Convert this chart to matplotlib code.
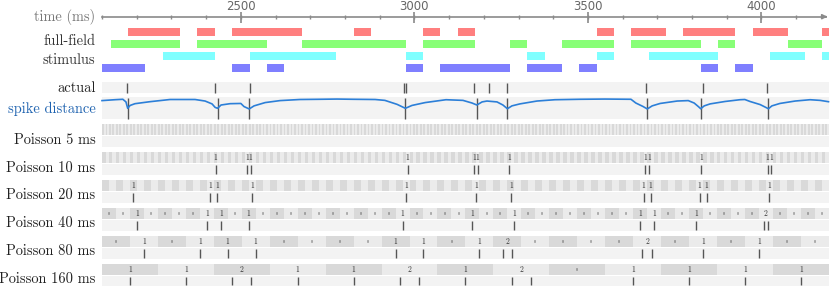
import matplotlib
matplotlib.use('Agg')
import matplotlib.pyplot as plt
import matplotlib.transforms as mtransforms
from matplotlib.patches import Rectangle
import numpy as np

# time window shown (ms)
t_start = 2100
t_end = 4194
major_ticks = [2500, 3000, 3500, 4000]

# full-field stimulus intervals (ms)
stim_red = [(2175, 2325), (2375, 2425), (2475, 2675), (2825, 2875), (3025, 3075),
            (3125, 3175), (3525, 3575), (3625, 3725), (3775, 3925), (3975, 4075), (4175, 4194)]
stim_green = [(2125, 2325), (2375, 2575), (2675, 2975), (3025, 3175), (3275, 3325),
              (3425, 3575), (3625, 3825), (3875, 3925), (4075, 4175)]
stim_cyan = [(2275, 2425), (2525, 2775), (2975, 3025), (3325, 3375), (3525, 3575),
             (3675, 3875), (4025, 4125), (4175, 4194)]
stim_blue = [(2100, 2225), (2475, 2525), (2575, 2625), (2975, 3025), (3075, 3275),
             (3325, 3425), (3475, 3525), (3825, 3875), (3925, 3975)]

# recorded spikes (ms)
actual_spikes = [2172, 2426, 2526, 2970, 2976, 3171, 3214, 3267, 3667, 3832, 4017]

# spike distance trace
sd_spikes = [2174, 2433, 2524, 2974, 3180, 3268, 3671, 3825, 4020]
sd_time = [2100, 2137, 2160, 2169, 2174, 2181, 2195, 2238, 2296, 2368, 2397, 2417, 2426,
           2433, 2443, 2469, 2500, 2509, 2524, 2538, 2570, 2613, 2670, 2728, 2777, 2823,
           2887, 2915, 2950, 2974, 2993, 3031, 3091, 3140, 3166, 3180, 3195, 3209, 3238,
           3255, 3268, 3281, 3304, 3353, 3405, 3477, 3549, 3624, 3638, 3659, 3671, 3685,
           3708, 3757, 3789, 3806, 3818, 3825, 3835, 3852, 3895, 3938, 3952, 3967, 3996,
           4010, 4020, 4030, 4053, 4097, 4140, 4169, 4193]
sd_value = [0.85, 0.89, 0.91, 0.79, 0.50, 0.63, 0.71, 0.80, 0.90, 0.90, 0.83, 0.70, 0.54,
            0.50, 0.65, 0.71, 0.72, 0.58, 0.47, 0.61, 0.76, 0.85, 0.90, 0.91, 0.92, 0.91,
            0.90, 0.86, 0.68, 0.50, 0.63, 0.76, 0.89, 0.86, 0.74, 0.65, 0.79, 0.83, 0.79,
            0.65, 0.48, 0.61, 0.70, 0.83, 0.89, 0.91, 0.92, 0.91, 0.74, 0.58, 0.47, 0.61,
            0.72, 0.83, 0.85, 0.74, 0.58, 0.48, 0.61, 0.70, 0.81, 0.89, 0.90, 0.81, 0.67,
            0.56, 0.48, 0.61, 0.72, 0.83, 0.89, 0.86, 0.80]

# Poisson samples: bins with one spike for the fine resolutions
p10_ones = [32, 41, 42, 87, 106, 107, 116, 155, 156, 171, 190, 191]
p20_ones = [4, 15, 16, 21, 43, 53, 58, 77, 78, 85, 86, 95]
p40_counts = [0, 0, 1, 0, 0, 0, 0, 1, 1, 0, 1, 0, 0, 0, 0, 0, 0, 0, 0, 0, 0, 1, 0, 0, 0, 0,
              1, 0, 0, 1, 0, 0, 0, 0, 0, 0, 0, 0, 1, 1, 0, 0, 1, 0, 0, 0, 0, 2, 0, 0, 0, 0]
p80_counts = [0, 1, 0, 1, 1, 1, 0, 0, 0, 0, 1, 1, 0, 1, 2, 0, 0, 0, 0, 2, 0, 1, 0, 1, 0, 0]
p160_counts = [1, 1, 2, 1, 1, 2, 1, 2, 0, 1, 1, 1, 1]

p5_counts = np.zeros(416, dtype=int)
p10_counts = np.zeros(208, dtype=int)
p10_counts[p10_ones] = 1
p20_counts = np.zeros(104, dtype=int)
p20_counts[p20_ones] = 1

poisson_rows = [('Poisson 5 ms', p5_counts, 'none'),
                ('Poisson 10 ms', p10_counts, 'nonzero'),
                ('Poisson 20 ms', p20_counts, 'nonzero'),
                ('Poisson 40 ms', p40_counts, 'all'),
                ('Poisson 80 ms', p80_counts, 'all'),
                ('Poisson 160 ms', p160_counts, 'all')]

serif = 'cmr10'
fs = 10.4
band_col = '#f3f3f3'
spike_col = '#555555'

fig = plt.figure(figsize=(8.3, 2.86), dpi=100)
ax = fig.add_axes([0, 0, 1, 1])
ax.set_xlim(1806.1, 4197.4)
ax.set_ylim(286, 0)
ax.axis('off')
lab = mtransforms.blended_transform_factory(fig.transFigure, ax.transData)
lab_x = 95.5 / 830

# time axis
ax_y = 16.7
ax.plot([t_start, t_end - 8], [ax_y, ax_y], color='#8a8a8a', lw=1.2)
ax.annotate('', xy=(t_end + 4, ax_y), xytext=(t_end - 20, ax_y),
            arrowprops=dict(arrowstyle='-|>', color='#8a8a8a', lw=1.2, mutation_scale=7))
ax.vlines(np.arange(t_start, 4101, 100), ax_y - 1.8, ax_y + 2.2, color='#8a8a8a', lw=1)
ax.vlines(major_ticks, ax_y - 4.4, ax_y + 6, color='#8a8a8a', lw=1.2)
for t in major_ticks:
    ax.text(t, 6.5, str(t), ha='center', va='center', color='#666666', fontsize=8.5)
ax.text(lab_x, 17, 'time (ms)', transform=lab, ha='right', va='center',
        color='#777777', fontsize=fs, family=serif)

# stimulus rows
stim_rows = [(stim_red, '#ff7f7f', 28), (stim_green, '#88ff77', 40),
             (stim_cyan, '#7fffff', 52), (stim_blue, '#7f7fff', 64)]
for intervals, col, y0 in stim_rows:
    ax.broken_barh([(a, b - a) for a, b in intervals], (y0, 8.3), facecolors=col)
ax.text(lab_x, 41, 'full-field', transform=lab, ha='right', va='center',
        color='#333333', fontsize=fs, family=serif)
ax.text(lab_x, 60.5, 'stimulus', transform=lab, ha='right', va='center',
        color='#333333', fontsize=fs, family=serif)

# actual spikes
ax.add_patch(Rectangle((t_start, 82.3), t_end - t_start, 11, color=band_col, lw=0))
ax.vlines(actual_spikes, 83, 92.5, color=spike_col, lw=1)
ax.text(lab_x, 88, 'actual', transform=lab, ha='right', va='center',
        color='#222222', fontsize=fs, family=serif)

# spike distance
sd_top, sd_h = 97.3, 22
ax.add_patch(Rectangle((t_start, sd_top), t_end - t_start, sd_h, color=band_col, lw=0))
ax.vlines(sd_spikes, sd_top + 1, sd_top + sd_h, color=spike_col, lw=1)
ax.plot(sd_time, sd_top + sd_h - np.array(sd_value) * sd_h, color='#2c7fd8', lw=1.2)
ax.text(lab_x, 108.5, 'spike distance', transform=lab, ha='right', va='center',
        color='#1f63b0', fontsize=fs, family=serif)

# Poisson rows
row_top = 124.3
for label, counts, show in poisson_rows:
    counts = np.asarray(counts)
    n = len(counts)
    edges = np.linspace(t_start, t_end, n + 1)
    w = edges[1] - edges[0]
    cols = ['#d9d9d9' if i % 2 == 0 else '#ebebeb' for i in range(n)]
    ax.bar(edges[:-1], 10.8, width=w, bottom=row_top, align='edge', color=cols, lw=0)
    bot = row_top + 11.8
    ax.add_patch(Rectangle((t_start, bot), t_end - t_start, 10.8, color=band_col, lw=0))
    spikes = []
    for i, c in enumerate(counts):
        for k in range(c):
            spikes.append(edges[i] + w * (k + 1) / (c + 1))
        if show == 'all' or (show == 'nonzero' and c > 0):
            ax.text(edges[i] + w / 2, row_top + 5.6, str(c), ha='center', va='center',
                    fontsize=5.5 if c > 0 else 3, color='#333333', family=serif)
    if spikes:
        ax.vlines(spikes, bot + 1, bot + 9.8, color=spike_col, lw=1)
    ax.text(lab_x, row_top + 15.5, label, transform=lab, ha='right', va='center',
            color='#222222', fontsize=fs, family=serif)
    row_top += 27.9

fig.savefig('out.png', dpi=100)
